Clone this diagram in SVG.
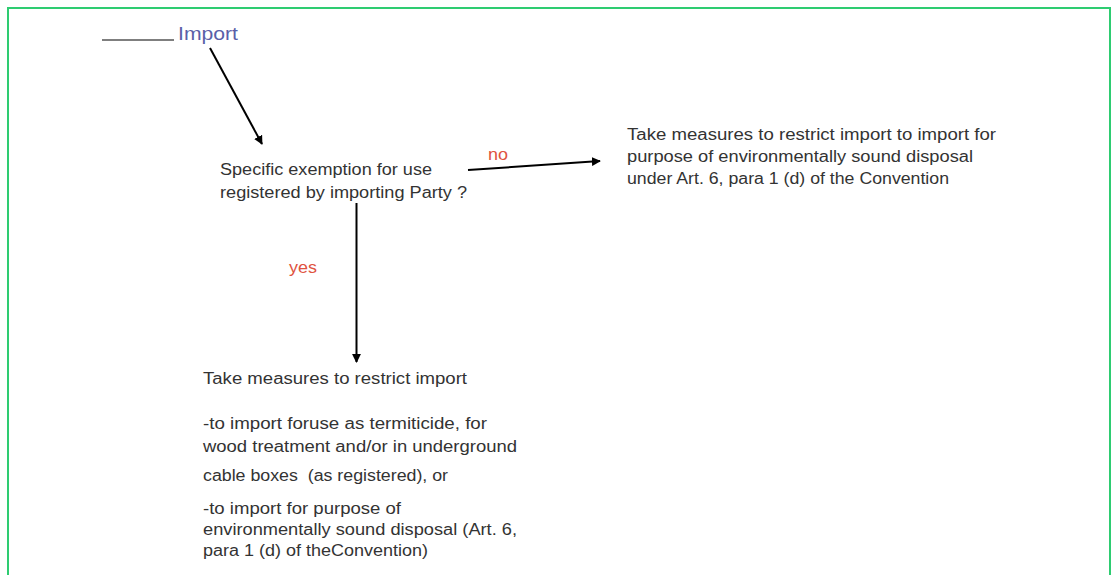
<svg xmlns="http://www.w3.org/2000/svg" width="1112" height="575" viewBox="0 0 1112 575">
<style>
.t{font-family:"Liberation Sans",Arial,sans-serif;font-size:16px;fill:#333333}
.lbl{font-family:"Liberation Sans",Arial,sans-serif;font-size:16.5px;fill:#e0533f}
.c{stroke:#000;stroke-width:2;fill:none;marker-end:url(#ah)}
</style>
<defs>
<marker id="ah" viewBox="0 0 10 10" refX="9" refY="5" markerWidth="9" markerHeight="9" orient="auto" markerUnits="userSpaceOnUse">
<path d="M0,0 L10,5 L0,10 z" fill="#000"/>
</marker>
</defs>
<rect x="0" y="0" width="1112" height="575" fill="#fff"/>
<path d="M8,580 V8 H1110 V580" fill="none" stroke="#2ecc71" stroke-width="2"/>
<g id="import">
<line x1="102" y1="40" x2="174" y2="40" stroke="#555" stroke-width="1.3"/>
<text x="178" y="40" textLength="60" lengthAdjust="spacingAndGlyphs" style="font-family:'Liberation Sans',Arial,sans-serif;font-size:19px;fill:#5a5fa8">Import</text>
</g>
<g id="question">
<text class="t" x="220" y="175" textLength="212" lengthAdjust="spacingAndGlyphs">Specific exemption for use</text>
<text class="t" x="220" y="198" textLength="247" lengthAdjust="spacingAndGlyphs">registered by importing Party ?</text>
</g>
<g id="no-outcome">
<text class="t" x="627" y="140" textLength="369" lengthAdjust="spacingAndGlyphs">Take measures to restrict import to import for</text>
<text class="t" x="627" y="162" textLength="346" lengthAdjust="spacingAndGlyphs">purpose of environmentally sound disposal</text>
<text class="t" x="627" y="184" textLength="322" lengthAdjust="spacingAndGlyphs">under Art. 6, para 1 (d) of the Convention</text>
</g>
<g id="yes-outcome">
<text class="t" x="203" y="384" textLength="264" lengthAdjust="spacingAndGlyphs">Take measures to restrict import</text>
<text class="t" x="203" y="429" textLength="284" lengthAdjust="spacingAndGlyphs">-to import foruse as termiticide, for</text>
<text class="t" x="203" y="452" textLength="314" lengthAdjust="spacingAndGlyphs">wood treatment and/or in underground</text>
<text class="t" x="203" y="481" textLength="245" lengthAdjust="spacingAndGlyphs" xml:space="preserve">cable boxes  (as registered), or</text>
<text class="t" x="203" y="514" textLength="198" lengthAdjust="spacingAndGlyphs">-to import for purpose of</text>
<text class="t" x="203" y="535" textLength="314" lengthAdjust="spacingAndGlyphs">environmentally sound disposal (Art. 6,</text>
<text class="t" x="203" y="556" textLength="225" lengthAdjust="spacingAndGlyphs">para 1 (d) of theConvention)</text>
</g>
<g id="connectors">
<line class="c" x1="210" y1="48" x2="262" y2="144"/>
<line class="c" x1="468" y1="170" x2="600" y2="161"/>
<line class="c" x1="356.5" y1="203" x2="356.5" y2="362"/>
<text class="lbl" x="488" y="160" textLength="20" lengthAdjust="spacingAndGlyphs">no</text>
<text class="lbl" x="289" y="273" textLength="28" lengthAdjust="spacingAndGlyphs">yes</text>
</g>
</svg>
